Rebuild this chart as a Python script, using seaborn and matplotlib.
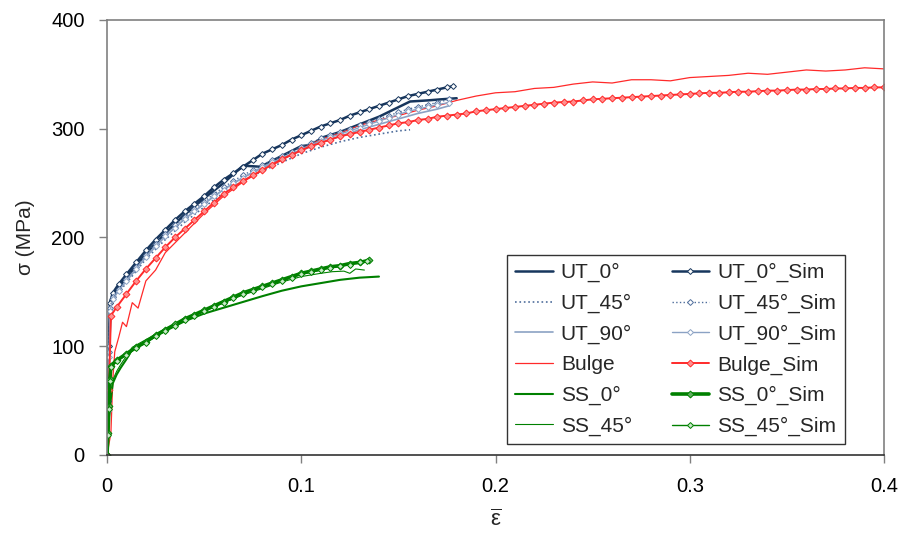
import matplotlib
matplotlib.use("Agg")
import matplotlib.pyplot as plt
import seaborn as sns
from matplotlib.ticker import FuncFormatter

# ---- data (strain, stress in MPa) ----
ut0_eps = [0, 0.001, 0.002, 0.005, 0.01, 0.02, 0.03, 0.04, 0.05, 0.06, 0.065, 0.07, 0.079,
           0.09, 0.10, 0.105, 0.111, 0.12, 0.13, 0.14, 0.148, 0.156, 0.165, 0.172, 0.18]
ut0_sig = [0, 90, 143, 152, 163, 185, 204, 221, 236, 250, 258, 266, 265,
           275, 284, 285, 292, 297, 304, 311, 318, 325, 326, 327, 328]

ut45_eps = [0, 0.001, 0.002, 0.005, 0.01, 0.02, 0.03, 0.04, 0.05, 0.06, 0.07, 0.08,
            0.09, 0.10, 0.11, 0.12, 0.13, 0.14, 0.15, 0.156]
ut45_sig = [0, 85, 138, 148, 158, 180, 198, 214, 228, 241, 252, 261,
            269, 277, 283, 288, 292, 295, 298, 299]

ut90_eps = [0, 0.001, 0.002, 0.005, 0.01, 0.02, 0.03, 0.04, 0.05, 0.06, 0.07, 0.08,
            0.09, 0.10, 0.11, 0.12, 0.13, 0.14, 0.15, 0.16, 0.17, 0.176]
ut90_sig = [0, 88, 140, 150, 160, 182, 201, 217, 231, 244, 255, 264,
            272, 280, 287, 293, 299, 304, 309, 314, 318, 321]

ut0s_eps = [0, 0.0005, 0.001, 0.0015, 0.003, 0.006, 0.01, 0.015, 0.02, 0.025, 0.03, 0.035,
            0.04, 0.045, 0.05, 0.055, 0.06, 0.065, 0.07, 0.075, 0.08, 0.085, 0.09, 0.095,
            0.10, 0.105, 0.11, 0.115, 0.12, 0.125, 0.13, 0.135, 0.14, 0.145, 0.15, 0.155,
            0.16, 0.165, 0.17, 0.175, 0.178]
ut0s_sig = [0, 50, 100, 140, 149, 157, 166, 177, 188, 198, 207, 216,
            224, 231, 238, 246, 253, 259, 265, 271, 277, 281, 285, 290,
            294, 298, 302, 305, 308, 312, 315, 318, 321, 324, 327, 330,
            332, 334, 336, 338, 339]

ut45s_eps = [0, 0.0005, 0.001, 0.0015, 0.003, 0.006, 0.01, 0.015, 0.02, 0.025, 0.03, 0.035,
             0.04, 0.045, 0.05, 0.055, 0.06, 0.065, 0.07, 0.075, 0.08, 0.085, 0.09, 0.095,
             0.10, 0.105, 0.11, 0.115, 0.12, 0.125, 0.13, 0.135, 0.14, 0.145, 0.15, 0.155,
             0.16, 0.165, 0.17, 0.176]
ut45s_sig = [0, 45, 95, 135, 145, 153, 162, 173, 184, 194, 203, 211,
             219, 226, 233, 240, 246, 252, 257, 262, 267, 271, 275, 279,
             283, 287, 291, 294, 297, 300, 303, 306, 309, 312, 315, 318,
             320, 322, 324, 327]

ut90s_eps = [0, 0.0005, 0.001, 0.0015, 0.003, 0.006, 0.01, 0.015, 0.02, 0.025, 0.03, 0.035,
             0.04, 0.045, 0.05, 0.055, 0.06, 0.065, 0.07, 0.075, 0.08, 0.085, 0.09, 0.095,
             0.10, 0.105, 0.11, 0.115, 0.12, 0.125, 0.13, 0.135, 0.14, 0.145, 0.15, 0.155,
             0.16, 0.165, 0.17, 0.176]
ut90s_sig = [0, 40, 90, 132, 143, 151, 160, 171, 182, 192, 201, 209,
             217, 224, 231, 238, 244, 250, 255, 260, 265, 269, 273, 277,
             281, 285, 289, 292, 295, 298, 301, 304, 307, 310, 313, 316,
             318, 320, 322, 324]

bulge_eps = [0, 0.002, 0.003, 0.004, 0.006, 0.008, 0.01, 0.013, 0.016, 0.02, 0.025, 0.03,
             0.04, 0.05, 0.06, 0.07, 0.08, 0.09, 0.10, 0.11, 0.12, 0.13, 0.14, 0.15,
             0.16, 0.17, 0.18, 0.19, 0.20, 0.21, 0.22, 0.23, 0.24, 0.25, 0.26, 0.27,
             0.28, 0.29, 0.30, 0.31, 0.32, 0.33, 0.34, 0.35, 0.36, 0.37, 0.38, 0.39, 0.40]
bulge_sig = [0, 20, 70, 95, 108, 122, 118, 140, 135, 160, 170, 186,
             204, 222, 238, 251, 262, 271, 281, 290, 296, 303, 308, 312,
             317, 321, 326, 330, 333, 334, 337, 338, 341, 343, 342, 345,
             345, 344, 347, 348, 349, 351, 350, 352, 354, 353, 354, 356, 355]

bulges_eps = [0, 0.001, 0.002, 0.005, 0.01, 0.015, 0.02, 0.025, 0.03, 0.035, 0.04, 0.045,
              0.05, 0.055, 0.06, 0.065, 0.07, 0.075, 0.08, 0.085, 0.09, 0.095, 0.10, 0.105,
              0.11, 0.115, 0.12, 0.125, 0.13, 0.135, 0.14, 0.145, 0.15, 0.155, 0.16, 0.165,
              0.17, 0.175, 0.18, 0.185, 0.19, 0.195, 0.20, 0.205, 0.21, 0.215, 0.22, 0.225,
              0.23, 0.235, 0.24, 0.245, 0.25, 0.255, 0.26, 0.265, 0.27, 0.275, 0.28, 0.285,
              0.29, 0.295, 0.30, 0.305, 0.31, 0.315, 0.32, 0.325, 0.33, 0.335, 0.34, 0.345,
              0.35, 0.355, 0.36, 0.365, 0.37, 0.375, 0.38, 0.385, 0.39, 0.395, 0.40]
bulges_sig = [0, 60, 128, 136, 148, 160, 171, 181, 191, 200, 208, 216,
              224, 232, 240, 246, 252, 257, 262, 267, 272, 276, 280, 284,
              287, 290, 293, 295, 297, 299, 301, 303, 305, 306, 308, 309,
              311, 312, 313, 314, 316, 317, 318, 319, 320, 321, 322, 323,
              324, 324.5, 325, 326, 327, 327.5, 328, 328.5, 329, 329.5, 330, 330.5,
              331, 331.5, 332, 332.5, 333, 333, 333.5, 334, 334, 334.5, 335, 335,
              335.5, 336, 336, 336.5, 336.5, 337, 337, 337.5, 337.5, 338, 338]

ss0_eps = [0, 0.001, 0.002, 0.003, 0.005, 0.007, 0.01, 0.013, 0.02, 0.03, 0.04, 0.05,
           0.065, 0.08, 0.09, 0.10, 0.11, 0.12, 0.13, 0.14]
ss0_sig = [0, 35, 52, 66, 74, 80, 88, 97, 104, 114, 123, 130,
           138, 146, 151, 155, 158, 161, 163, 164]

ss45_eps = [0, 0.001, 0.002, 0.003, 0.005, 0.007, 0.01, 0.013, 0.02, 0.03, 0.04, 0.05,
            0.06, 0.07, 0.08, 0.09, 0.10, 0.11, 0.116, 0.122, 0.125, 0.128, 0.1325]
ss45_sig = [0, 38, 55, 69, 77, 83, 91, 99, 106, 116, 125, 133,
            140, 147, 153, 159, 164, 167, 168.5, 169, 167, 171, 170]

ss0s_eps = [0, 0.0005, 0.001, 0.0015, 0.002, 0.005, 0.01, 0.015, 0.02, 0.025, 0.03, 0.035,
            0.04, 0.045, 0.05, 0.055, 0.06, 0.065, 0.07, 0.075, 0.08, 0.085, 0.09, 0.095,
            0.10, 0.105, 0.11, 0.115, 0.12, 0.125, 0.13, 0.135]
ss0s_sig = [0, 20, 45, 70, 82, 87, 93, 99, 104, 110, 115, 120,
            125, 129, 133, 137, 141, 145, 149, 152, 155, 158, 161, 164,
            167, 169, 171, 173, 174, 176, 177, 179]

ss45s_eps = [0, 0.0005, 0.001, 0.0015, 0.002, 0.005, 0.01, 0.015, 0.02, 0.025, 0.03, 0.035,
             0.04, 0.045, 0.05, 0.055, 0.06, 0.065, 0.07, 0.075, 0.08, 0.085, 0.09, 0.095,
             0.10, 0.105, 0.11, 0.115, 0.12, 0.125, 0.13, 0.134]
ss45s_sig = [0, 18, 42, 68, 81, 86, 92, 98, 103, 109, 114, 119,
             124, 128, 132, 136, 140, 144, 148, 151, 154, 157, 160, 163,
             166, 168, 170, 172, 174, 175, 177, 178]

NAVY = "#17365D"
MID = "#4F6E9C"
LIGHT = "#8BA2C4"
RED = "#FF2A2A"
GREEN = "#008000"

sns.set_style("white")
plt.rcParams["font.family"] = ["Liberation Sans", "DejaVu Sans"]
plt.rcParams["mathtext.default"] = "regular"

fig = plt.figure(figsize=(9.03, 5.39), dpi=100)
ax = fig.add_axes([0.1185, 0.156, 0.8605, 0.807])


def draw(x, y, label, color, lw, ls="-", marker=None, ms=3, mfc="white"):
    kws = dict(x=x, y=y, ax=ax, color=color, lw=lw, ls=ls, label=label,
               sort=False, estimator=None)
    if marker:
        kws.update(marker=marker, markersize=ms, markerfacecolor=mfc,
                   markeredgecolor=color, markeredgewidth=0.7)
    sns.lineplot(**kws)


# experiments
draw(ut0_eps, ut0_sig, "UT_0°", NAVY, 1.8)
draw(ut45_eps, ut45_sig, "UT_45°", MID, 1.2, ls=":")
draw(ut90_eps, ut90_sig, "UT_90°", LIGHT, 1.2)
draw(bulge_eps, bulge_sig, "Bulge", RED, 0.9)
draw(ss0_eps, ss0_sig, "SS_0°", GREEN, 1.5)
draw(ss45_eps, ss45_sig, "SS_45°", GREEN, 0.8)
# simulations
draw(ut0s_eps, ut0s_sig, "UT_0°_Sim", NAVY, 1.8, marker="D")
draw(ut45s_eps, ut45s_sig, "UT_45°_Sim", MID, 1.0, ls=":", marker="D")
draw(ut90s_eps, ut90s_sig, "UT_90°_Sim", LIGHT, 1.0, marker="D")
draw(bulges_eps, bulges_sig, "Bulge_Sim", RED, 1.4, marker="D", ms=3.5, mfc="#FF9090")
draw(ss0s_eps, ss0s_sig, "SS_0°_Sim", GREEN, 2.6, marker="D", ms=3.5, mfc="#60B060")
draw(ss45s_eps, ss45s_sig, "SS_45°_Sim", GREEN, 1.0, marker="D", ms=3, mfc="#C8EAC8")

ax.set_xlim(0, 0.4)
ax.set_ylim(0, 400)
ax.set_xticks([0, 0.1, 0.2, 0.3, 0.4])
ax.set_yticks([0, 100, 200, 300, 400])
ax.xaxis.set_major_formatter(FuncFormatter(lambda v, p: "0" if v == 0 else f"{v:g}"))
ax.tick_params(axis="both", direction="out", length=6, width=1, colors="#808080",
               labelcolor="black", labelsize=14.5, bottom=True, left=True)
ax.tick_params(axis="x", pad=10)
ax.tick_params(axis="y", pad=10)
for side in ["left", "top", "right"]:
    ax.spines[side].set_color("#808080")
    ax.spines[side].set_linewidth(1.2)
ax.spines["bottom"].set_color("#333333")
ax.spines["bottom"].set_linewidth(1.2)

ax.set_xlabel(r"$\overline{ε}$", fontsize=16, labelpad=10)
ax.set_ylabel("σ (MPa)", fontsize=15, labelpad=12)

handles, labels = ax.get_legend_handles_labels()
leg = ax.legend(handles, labels, ncol=2, loc="lower right",
                bbox_to_anchor=(0.963, 0.0), fontsize=15, frameon=True,
                fancybox=False, edgecolor="black", handlelength=1.8,
                columnspacing=1.9, labelspacing=0.55, borderpad=0.4,
                handletextpad=0.4)
leg.get_frame().set_linewidth(1.0)

fig.savefig("out.png", dpi=100)
